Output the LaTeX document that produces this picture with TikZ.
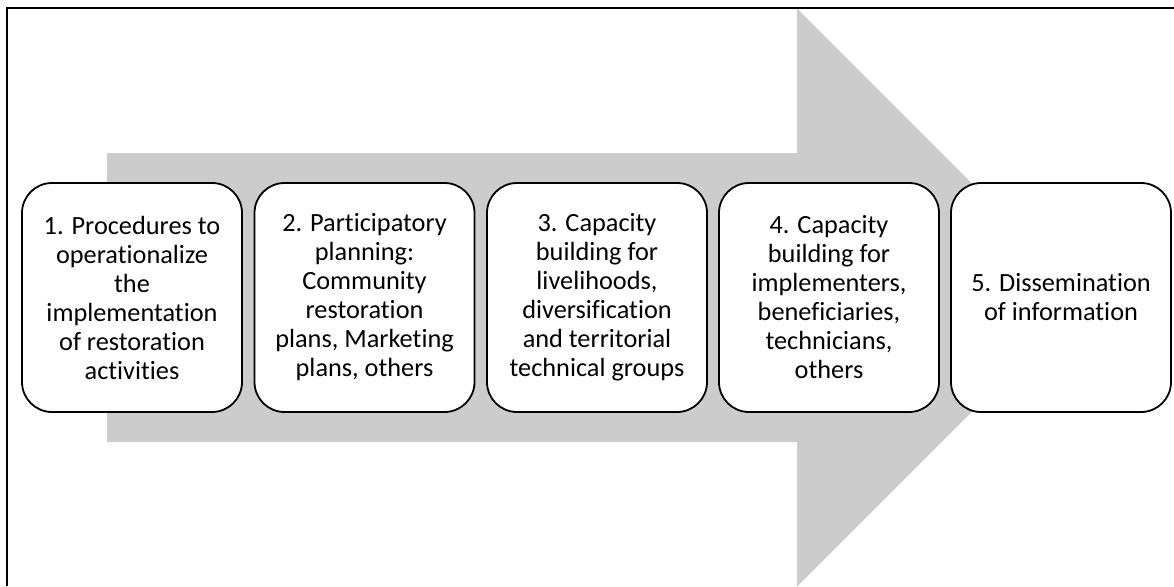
\documentclass[tikz,border=0pt]{standalone}
\usepackage{fontspec}
\setmainfont{Carlito}[Ligatures=NoCommon]
\begin{document}
\begin{tikzpicture}[x=1pt,y=-1pt,
  stage/.style={draw=black, line width=1.8pt, fill=white, rounded corners=30pt,
    minimum width=220pt, minimum height=229pt, align=center, inner sep=0pt,
    font=\fontsize{26.3}{29}\selectfont},
  flow/.style={fill=gray!40},
  frame/.style={draw=black, line width=2pt}]
\useasboundingbox (0,0) rectangle (1174,586);
% broad background arrow
\fill[flow] (107,153) -- (797,153) -- (797,8.5) -- (1086,297.5)
  -- (797,586.5) -- (797,442) -- (107,442) -- cycle;
% outer frame (left and top edges)
\draw[frame] (7,586) -- (7,8) -- (1174,8);
% process stages
\node[stage] (s1) at (132,297.5) {1. Procedures to\\operationalize\\the\\implementation\\of restoration\\activities};
\node[stage] (s2) at (364.5,297.5) {2. Participatory\\planning:\\Community\\restoration\\plans, Marketing\\plans, others};
\node[stage] (s3) at (597,297.5) {3. Capacity\\building for\\livelihoods,\\diversification\\and territorial\\technical groups};
\node[stage] (s4) at (829,297.5) {4. Capacity\\building for\\implementers,\\beneficiaries,\\technicians,\\others};
\node[stage] (s5) at (1061,297.5) {5. Dissemination\\of information};
\end{tikzpicture}
\end{document}
